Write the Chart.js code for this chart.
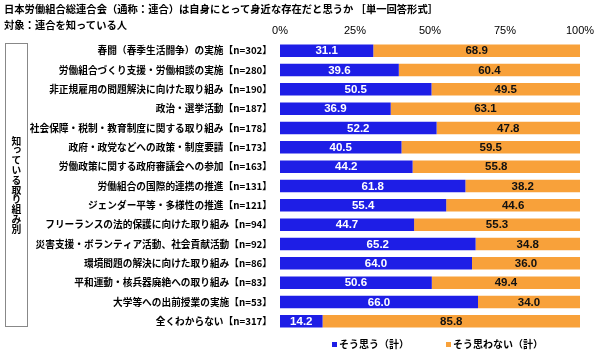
<!DOCTYPE html>
<html>
<head>
<meta charset="utf-8">
<script src="https://cdn.jsdelivr.net/npm/chart.js@4.4.1/dist/chart.umd.min.js"></script>
<style>
  body { margin: 0; background: #fff; font-family: "Noto Sans CJK JP", sans-serif; }
  #wrap { position: relative; width: 600px; height: 354px; }
  .title { position: absolute; left: 4px; font-size: 10.3px; font-weight: bold; color: #000; white-space: nowrap; }
  #side { position: absolute; left: 5px; top: 43px; width: 23px; height: 284px; border: 1px solid #888;
          box-sizing: border-box; display: flex; align-items: center; justify-content: center; }
  #side span { writing-mode: vertical-rl; font-size: 9.8px; font-weight: bold; color: #000; }
  .leg { position: absolute; top: 336px; font-size: 10px; font-weight: bold; color: #000; white-space: nowrap; }
  .leg i { display: inline-block; width: 5px; height: 5px; margin-right: 2px; vertical-align: 1px; }
  canvas { position: absolute; left: 0; top: 0; }
</style>
</head>
<body>
<div id="wrap">
  <canvas id="chart" width="600" height="354"></canvas>
  <div class="title" style="top:1px">日本労働組合総連合会（通称：連合）は自身にとって身近な存在だと思うか ［単一回答形式］</div>
  <div class="title" style="top:17px">対象：連合を知っている人</div>
  <div id="side"><span>知っている取り組み別</span></div>
  <div class="leg" id="leg0" style="left:332px"></div>
  <div class="leg" id="leg1" style="left:446px"></div>
</div>
<script>
const categories = [
  '春闘（春季生活闘争）の実施【n=302】',
  '労働組合づくり支援・労働相談の実施【n=280】',
  '非正規雇用の問題解決に向けた取り組み【n=190】',
  '政治・選挙活動【n=187】',
  '社会保障・税制・教育制度に関する取り組み【n=178】',
  '政府・政党などへの政策・制度要請【n=173】',
  '労働政策に関する政府審議会への参加【n=163】',
  '労働組合の国際的連携の推進【n=131】',
  'ジェンダー平等・多様性の推進【n=121】',
  'フリーランスの法的保護に向けた取り組み【n=94】',
  '災害支援・ボランティア活動、社会貢献活動【n=92】',
  '環境問題の解決に向けた取り組み【n=86】',
  '平和運動・核兵器廃絶への取り組み【n=83】',
  '大学等への出前授業の実施【n=53】',
  '全くわからない【n=317】'
];
const yesValues = [31.1, 39.6, 50.5, 36.9, 52.2, 40.5, 44.2, 61.8, 55.4, 44.7, 65.2, 64.0, 50.6, 66.0, 14.2];
const noValues = [68.9, 60.4, 49.5, 63.1, 47.8, 59.5, 55.8, 38.2, 44.6, 55.3, 34.8, 36.0, 49.4, 34.0, 85.8];
const seriesNames = ['そう思う（計）', 'そう思わない（計）'];
const xTicks = [0, 25, 50, 75, 100];

const BLUE = '#1e1ee6';
const ORANGE = '#f8a13a';
const colors = [BLUE, ORANGE];

// simple html legend below the plot
seriesNames.forEach((name, i) => {
  document.getElementById('leg' + i).innerHTML = '<i style="background:' + colors[i] + '"></i>' + name;
});

// value labels inside the bars
const valueLabels = {
  id: 'valueLabels',
  afterDatasetsDraw(chart) {
    const ctx = chart.ctx;
    ctx.save();
    ctx.font = 'bold 11.5px "Liberation Sans", Arial, sans-serif';
    ctx.textAlign = 'center';
    ctx.textBaseline = 'middle';
    chart.data.datasets.forEach((ds, di) => {
      chart.getDatasetMeta(di).data.forEach((bar, i) => {
        const cx = (bar.x + bar.base) / 2;
        ctx.fillStyle = di === 0 ? '#fff' : '#111';
        ctx.fillText(ds.data[i].toFixed(1), cx, bar.y + 0.5);
      });
    });
    ctx.restore();
  }
};

new Chart(document.getElementById('chart'), {
  type: 'bar',
  data: {
    labels: categories,
    datasets: [
      { label: seriesNames[0], data: yesValues, backgroundColor: BLUE },
      { label: seriesNames[1], data: noValues, backgroundColor: ORANGE }
    ]
  },
  options: {
    indexAxis: 'y',
    responsive: false,
    animation: false,
    layout: { padding: { left: 0, right: 20, top: 20, bottom: 23 } },
    datasets: { bar: { categoryPercentage: 1, barPercentage: 0.65 } },
    scales: {
      x: {
        stacked: true,
        position: 'top',
        min: 0,
        max: 100,
        afterBuildTicks: (axis) => { axis.ticks = xTicks.map(v => ({ value: v })); },
        afterFit: (axis) => { axis.height = 21; },
        grid: { display: false, drawTicks: false },
        border: { display: false },
        ticks: {
          padding: 3,
          color: '#000',
          font: { family: '"Liberation Sans", Arial, sans-serif', size: 11 },
          callback: (v) => v + '%'
        }
      },
      y: {
        stacked: true,
        afterFit: (axis) => { axis.width = 280; },
        grid: { display: false, drawTicks: false },
        border: { display: false },
        ticks: {
          padding: 8,
          color: '#000',
          font: { family: '"Noto Sans CJK JP"', size: 9.7, weight: 'bold' }
        }
      }
    },
    plugins: {
      legend: { display: false },
      tooltip: { enabled: false }
    }
  },
  plugins: [valueLabels]
});
</script>
</body>
</html>
